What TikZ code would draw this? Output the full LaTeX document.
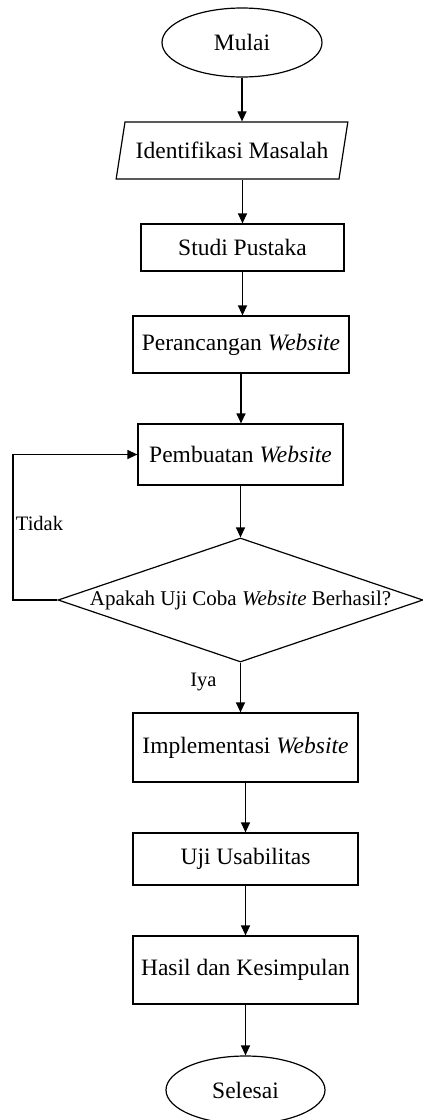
\documentclass[tikz,border=0pt]{standalone}
\usepackage{fontspec}
\setmainfont{Liberation Serif}
\usetikzlibrary{shapes.geometric,arrows.meta}
\begin{document}
\begin{tikzpicture}[x=1pt,y=1pt,
  every node/.style={inner sep=0pt, font=\fontsize{23.5}{28}\selectfont},
  stepbox/.style={draw, rectangle, line width=1.2pt},
  term/.style={draw, ellipse, line width=1.2pt},
  io/.style={draw, trapezium, trapezium left angle=64.6, trapezium right angle=115.4, trapezium stretches=true, line width=1.2pt},
  decision/.style={draw, diamond, aspect=2.94, line width=1.2pt, font=\fontsize{21}{25}\selectfont},
  lbl/.style={font=\fontsize{20.5}{24}\selectfont},
  arr/.style={-{Triangle[length=10pt,width=9pt]}, line width=1.2pt}]
\useasboundingbox (0,0) rectangle (423,-1120);
\node[term, minimum width=160pt, minimum height=69pt] (mulai) at (242,-42.5) {Mulai};
\node[io, minimum width=232pt, minimum height=57pt] (ident) at (232,-150.5) {Identifikasi Masalah};
\node[stepbox, minimum width=203pt, minimum height=47pt] (studi) at (242.5,-247.5) {Studi Pustaka};
\node[stepbox, minimum width=216pt, minimum height=57pt] (peranc) at (241,-344.5) {Perancangan \textit{Website}};
\node[stepbox, minimum width=205pt, minimum height=61pt] (pemb) at (240.5,-454.5) {Pembuatan \textit{Website}};
\node[decision, minimum width=365pt, minimum height=124pt] (dec) at (240.5,-600) {Apakah Uji Coba \textit{Website} Berhasil?};
\node[stepbox, minimum width=225pt, minimum height=69pt] (impl) at (245.5,-747.5) {Implementasi \textit{Website}};
\node[stepbox, minimum width=225pt, minimum height=52pt] (uji) at (245.5,-859) {Uji Usabilitas};
\node[stepbox, minimum width=225pt, minimum height=68pt] (hasil) at (245.5,-970) {Hasil dan Kesimpulan};
\node[term, minimum width=159pt, minimum height=68pt] (selesai) at (245.5,-1090) {Selesai};
\node[lbl] (tidak) at (39.5,-523) {Tidak};
\node[lbl] (iya) at (203.5,-682) {Iya};
\coordinate (lp) at (13,-600);
\draw[arr] (mulai.south) -- (mulai.south |- ident.north);
\draw[arr] (studi.north |- ident.south) -- (studi.north);
\draw[arr] (studi.south) -- (studi.south |- peranc.north);
\draw[arr] (peranc.south) -- (peranc.south |- pemb.north);
\draw[arr] (pemb.south) -- (pemb.south |- dec.north);
\draw[arr] (dec.south) -- (dec.south |- impl.north);
\draw[arr] (impl.south) -- (impl.south |- uji.north);
\draw[arr] (uji.south) -- (uji.south |- hasil.north);
\draw[arr] (hasil.south) -- (hasil.south |- selesai.north);
\draw[arr] (dec.west) -- (lp) |- (pemb.west);
\end{tikzpicture}
\end{document}
